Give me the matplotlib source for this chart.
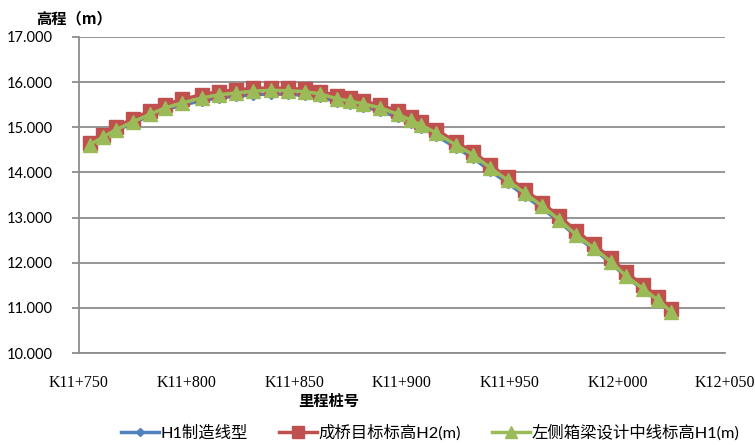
import matplotlib
matplotlib.use("Agg")
import matplotlib.pyplot as plt
from matplotlib.ticker import FuncFormatter, MultipleLocator

plt.rcParams['font.family'] = ['Noto Sans CJK SC', 'DejaVu Sans']

# Chainage (m) of each survey station
stations = [11755, 11761, 11767, 11775, 11783, 11790, 11798, 11807, 11815, 11823,
            11831, 11839, 11847, 11855, 11862, 11870, 11876, 11882, 11890, 11898,
            11904, 11909, 11916, 11925, 11933, 11941, 11949, 11957, 11965, 11973,
            11981, 11989, 11997, 12004, 12012, 12019, 12025]

# H1 manufacturing profile
h1_make = [14.60, 14.76, 14.92, 15.09, 15.26, 15.39, 15.49, 15.59, 15.65, 15.69,
           15.72, 15.74, 15.73, 15.71, 15.67, 15.56, 15.51, 15.45, 15.36, 15.22,
           15.10, 14.99, 14.81, 14.55, 14.32, 14.03, 13.77, 13.48, 13.21, 12.91,
           12.58, 12.30, 11.99, 11.69, 11.40, 11.15, 10.90]

# H2 finished-bridge target elevation
h2_target = [14.65, 14.84, 15.00, 15.19, 15.36, 15.50, 15.62, 15.72, 15.79, 15.83,
             15.86, 15.87, 15.86, 15.84, 15.79, 15.70, 15.64, 15.58, 15.49, 15.36,
             15.23, 15.12, 14.95, 14.67, 14.46, 14.16, 13.90, 13.62, 13.33, 13.03,
             12.70, 12.41, 12.10, 11.79, 11.50, 11.24, 10.97]

# H1 design centreline elevation, left box girder
h1_design = [14.61, 14.78, 14.94, 15.12, 15.29, 15.43, 15.54, 15.65, 15.72, 15.76,
             15.80, 15.82, 15.81, 15.79, 15.74, 15.63, 15.58, 15.52, 15.43, 15.29,
             15.16, 15.05, 14.87, 14.61, 14.39, 14.10, 13.83, 13.54, 13.26, 12.95,
             12.61, 12.33, 12.02, 11.71, 11.42, 11.17, 10.91]

series_names = ['H1制造线型', '成桥目标标高H2(m)', '左侧箱梁设计中线标高H1(m)']

fig = plt.figure(figsize=(7.55, 4.45), dpi=100)
ax = fig.add_axes([0.1046, 0.2067, 0.8557, 0.7102])

ax.plot(stations, h1_make, color='#4F81BD', lw=2.5, marker='D', ms=5,
        label=series_names[0], zorder=3)
ax.plot(stations, h2_target, color='#C0504D', lw=2.5, marker='s', ms=10,
        label=series_names[1], zorder=4)
ax.plot(stations, h1_design, color='#9BBB59', lw=2.5, marker='^', ms=10,
        label=series_names[2], zorder=5)

ax.set_xlim(11750, 12050)
ax.set_ylim(10, 17)
ax.xaxis.set_major_locator(MultipleLocator(50))
ax.yaxis.set_major_locator(MultipleLocator(1))
ax.xaxis.set_major_formatter(FuncFormatter(
    lambda v, p: f"K{int(v) // 1000}+{int(v) % 1000:03d}"))
ax.yaxis.set_major_formatter(FuncFormatter(lambda v, p: f"{v:.3f}"))

ax.grid(axis='y', color='#8c8c8c', lw=1.3)
ax.set_axisbelow(True)
for s in ('top', 'right'):
    ax.spines[s].set_visible(False)
for s in ('left', 'bottom'):
    ax.spines[s].set_color('#8c8c8c')
    ax.spines[s].set_linewidth(1.3)

ax.tick_params(axis='x', length=0, pad=16)
ax.tick_params(axis='y', length=5, width=1.3, color='#8c8c8c', pad=14)
for lbl in ax.get_xticklabels():
    lbl.set_fontfamily('Liberation Serif')
    lbl.set_fontsize(11.5)
for lbl in ax.get_yticklabels():
    lbl.set_fontfamily('Lato')
    lbl.set_fontsize(10.5)

fig.text(74 / 755, 1 - 18 / 445, '高程（m）', ha='center', va='center',
         fontsize=11, fontweight='bold')
fig.text(329 / 755, 1 - 401 / 445, '里程桩号', ha='center', va='center',
         fontsize=11, fontweight='bold')

fig.legend(loc='center', bbox_to_anchor=(430 / 755, 1 - 433 / 445), ncol=3,
           frameon=False, handlelength=2.3, columnspacing=1.9,
           handletextpad=0.1, markerscale=0.8,
           prop={'family': ['Lato', 'Noto Sans CJK SC'], 'size': 11.8})

fig.savefig('out.png', dpi=100)
